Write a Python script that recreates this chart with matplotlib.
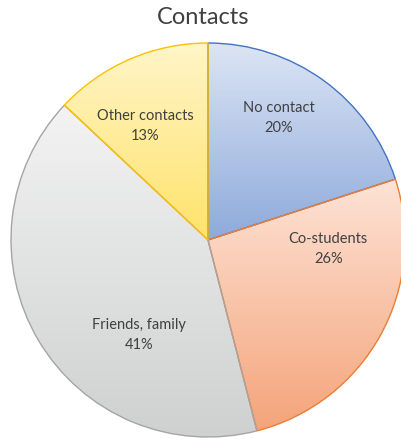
import numpy as np
import matplotlib
matplotlib.use("Agg")
import matplotlib.pyplot as plt
from matplotlib.colors import LinearSegmentedColormap

plt.rcParams['font.family'] = ['Lato', 'DejaVu Sans']

# Data
labels = ["No contact", "Co-students", "Friends, family", "Other contacts"]
shares = [20, 26, 41, 13]

# Styling: gradient (top, bottom) and edge colour per slice
grad_top = ["#dce5f4", "#fde3d6", "#f3f3f3", "#fff5c8"]
grad_bottom = ["#8eaadb", "#f4a47a", "#cfd0d0", "#ffe36a"]
edge_colors = ["#4472c4", "#ed7d31", "#a5a5a5", "#ffc000"]
# label position relative to centre, in radius units
label_pos = [(0.36, 0.62), (0.61, -0.045), (-0.35, -0.48), (-0.32, 0.58)]

W, H = 402, 446
fig = plt.figure(figsize=(W / 100, H / 100), dpi=100)
ax = fig.add_axes([0, 0, 1, 1])

cx, cy, r = 208, H - 240, 197

wedges, _ = ax.pie(shares, startangle=90, counterclock=False,
                   center=(cx, cy), radius=r, frame=True,
                   wedgeprops=dict(linewidth=1.0))

for w, top, bot, ec in zip(wedges, grad_top, grad_bottom, edge_colors):
    w.set_facecolor("none")
    w.set_edgecolor(ec)
    w.set_zorder(3)
    bb = w.get_path().get_extents(w.get_patch_transform())
    cmap = LinearSegmentedColormap.from_list("g", [bot, top])
    grad = np.linspace(0, 1, 256).reshape(-1, 1)
    im = ax.imshow(grad, cmap=cmap, origin="lower", aspect="auto",
                   extent=(bb.x0, bb.x1, bb.y0, bb.y1), zorder=2)
    im.set_clip_path(w)

for lab, s, (dx, dy) in zip(labels, shares, label_pos):
    ax.text(cx + dx * r, cy + dy * r, f"{lab}\n{s}%", ha="center", va="center",
            fontsize=10.5, color="#404040", linespacing=1.55, zorder=4)

ax.set_xlim(0, W)
ax.set_ylim(0, H)
ax.set_aspect("equal")
ax.axis("off")

fig.text(203 / W, 1 - 17 / H, "Contacts", ha="center", va="center",
         fontsize=17, color="#404040")

fig.savefig("out.png", dpi=100)
